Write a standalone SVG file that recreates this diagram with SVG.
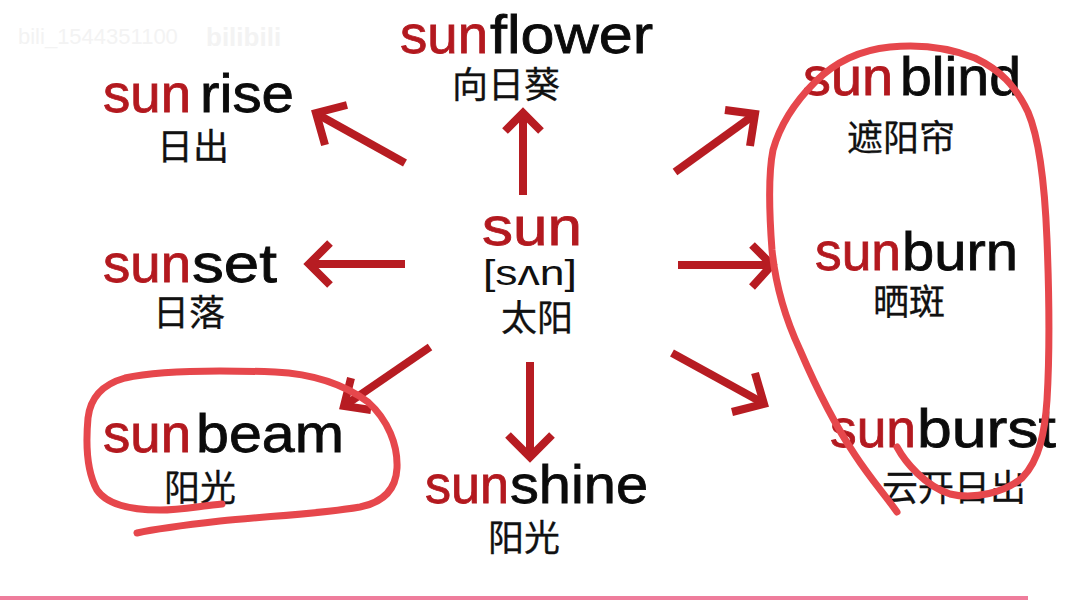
<svg xmlns="http://www.w3.org/2000/svg" width="1076" height="600" viewBox="0 0 1076 600">
<defs>
<style>
.en{font-family:"Liberation Sans","Noto Sans",Arial,sans-serif;font-size:54px;stroke-width:0.8px;}
.sun{fill:#b3191f;stroke:#b3191f;}
.suf{fill:#0b0b0b;stroke:#0b0b0b;}
.cn{font-family:"Noto Sans CJK SC","Noto Sans",sans-serif;font-size:36px;fill:#111;stroke:#111;stroke-width:0.3px;text-anchor:middle;}
.ipa{font-family:"Liberation Sans","DejaVu Sans",sans-serif;font-size:35px;fill:#111;}
.arr{fill:none;stroke:#b71c22;stroke-width:8;stroke-linejoin:miter;stroke-miterlimit:10;}
.ink{fill:none;stroke:#e6474c;stroke-width:7;stroke-linecap:round;stroke-linejoin:round;}
.wm{font-family:"Liberation Sans",sans-serif;fill:#f3f3f3;}
</style>
</defs>
<rect width="1076" height="600" fill="#ffffff"/>
<text class="wm" x="18" y="44" font-size="22">bili_1544351100</text>
<text class="wm" x="206" y="46" font-size="26" font-weight="bold">bilibili</text>

<g id="center">
<text class="en sun" x="482" y="245" font-size="58" textLength="100" lengthAdjust="spacingAndGlyphs">sun</text>
<text class="ipa" x="483" y="285" textLength="94" lengthAdjust="spacingAndGlyphs">[sʌn]</text>
<text class="cn" x="537" y="331">太阳</text>
</g>

<g id="sunflower">
<text class="en sun" x="400" y="53" textLength="88" lengthAdjust="spacingAndGlyphs">sun</text>
<text class="en suf" x="490" y="53" textLength="163" lengthAdjust="spacingAndGlyphs">flower</text>
<text class="cn" x="506" y="98">向日葵</text>
</g>

<g id="sunrise">
<text class="en sun" x="103" y="112" textLength="88" lengthAdjust="spacingAndGlyphs">sun</text>
<text class="en suf" x="200" y="112" textLength="94" lengthAdjust="spacingAndGlyphs">rise</text>
<text class="cn" x="193" y="160">日出</text>
</g>

<g id="sunset">
<text class="en sun" x="103" y="282" textLength="88" lengthAdjust="spacingAndGlyphs">sun</text>
<text class="en suf" x="192" y="282" textLength="85" lengthAdjust="spacingAndGlyphs">set</text>
<text class="cn" x="189" y="326">日落</text>
</g>

<g id="sunbeam">
<text class="en sun" x="103" y="452" textLength="88" lengthAdjust="spacingAndGlyphs">sun</text>
<text class="en suf" x="196" y="452" textLength="148" lengthAdjust="spacingAndGlyphs">beam</text>
<text class="cn" x="200" y="501">阳光</text>
</g>

<g id="sunshine">
<text class="en sun" x="425" y="503" textLength="84" lengthAdjust="spacingAndGlyphs">sun</text>
<text class="en suf" x="510" y="503" textLength="138" lengthAdjust="spacingAndGlyphs">shine</text>
<text class="cn" x="524" y="551">阳光</text>
</g>

<g id="sunblind">
<text class="en sun" x="803" y="95" textLength="90" lengthAdjust="spacingAndGlyphs">sun</text>
<text class="en suf" x="900" y="95" textLength="121" lengthAdjust="spacingAndGlyphs">blind</text>
<text class="cn" x="901" y="151">遮阳帘</text>
</g>

<g id="sunburn">
<text class="en sun" x="815" y="270" textLength="86" lengthAdjust="spacingAndGlyphs">sun</text>
<text class="en suf" x="902" y="270" textLength="116" lengthAdjust="spacingAndGlyphs">burn</text>
<text class="cn" x="909" y="315" font-size="35">晒斑</text>
</g>

<g id="sunburst">
<text class="en sun" x="830" y="447" textLength="86" lengthAdjust="spacingAndGlyphs">sun</text>
<text class="en suf" x="917" y="447" textLength="139" lengthAdjust="spacingAndGlyphs">burst</text>
<text class="cn" x="954" y="501">云开日出</text>
</g>

<g id="connectors">
<line class="arr" x1="523" y1="195" x2="523" y2="114"/>
<polyline class="arr" points="505,131 523,113 541,131"/>
<line class="arr" x1="405" y1="163" x2="317" y2="114"/>
<polyline class="arr" points="347,105 316,113 325,145"/>
<line class="arr" x1="405" y1="264" x2="309" y2="264"/>
<polyline class="arr" points="330,243 309,264 330,285"/>
<line class="arr" x1="430" y1="347" x2="344" y2="406"/>
<polyline class="arr" points="351,378 344,406 371,410"/>
<line class="arr" x1="530" y1="362" x2="530" y2="456"/>
<polyline class="arr" points="508,435 530,457 552,435"/>
<line class="arr" x1="675" y1="172" x2="754" y2="115"/>
<polyline class="arr" points="725,110 755,114 750,146"/>
<line class="arr" x1="678" y1="265" x2="771" y2="265"/>
<polyline class="arr" points="752,245 772,265 752,287"/>
<line class="arr" x1="672" y1="353" x2="763" y2="403"/>
<polyline class="arr" points="755,373 764,404 732,412"/>
</g>

<g id="annotations">
<path class="ink" d="M222,504 C200,506 180,510 160,510 C135,510 108,506 97,490 C86,470 86,440 88,418 C90,400 100,385 125,378 C160,370 220,370 275,372 C315,374 345,385 368,402 C388,420 398,445 397,468 C396,488 385,502 360,507 C320,514 270,516 220,521 C185,525 155,529 137,533"/>
<path class="ink" d="M897,447 C905,462 925,486 950,494 C975,500 1005,492 1022,478 C1040,460 1045,430 1047,400 C1050,350 1049,290 1047,240 C1045,190 1040,140 1028,112 C1015,85 1000,70 975,58 C950,48 920,44 890,47 C860,50 835,62 815,82 C795,102 780,125 773,150 C768,175 769,210 772,250 C776,290 786,320 800,350 C815,385 835,425 855,455 C870,478 885,495 897,512"/>
</g>

<rect x="0" y="596" width="1028" height="4" fill="#ef7d9c"/>
</svg>
